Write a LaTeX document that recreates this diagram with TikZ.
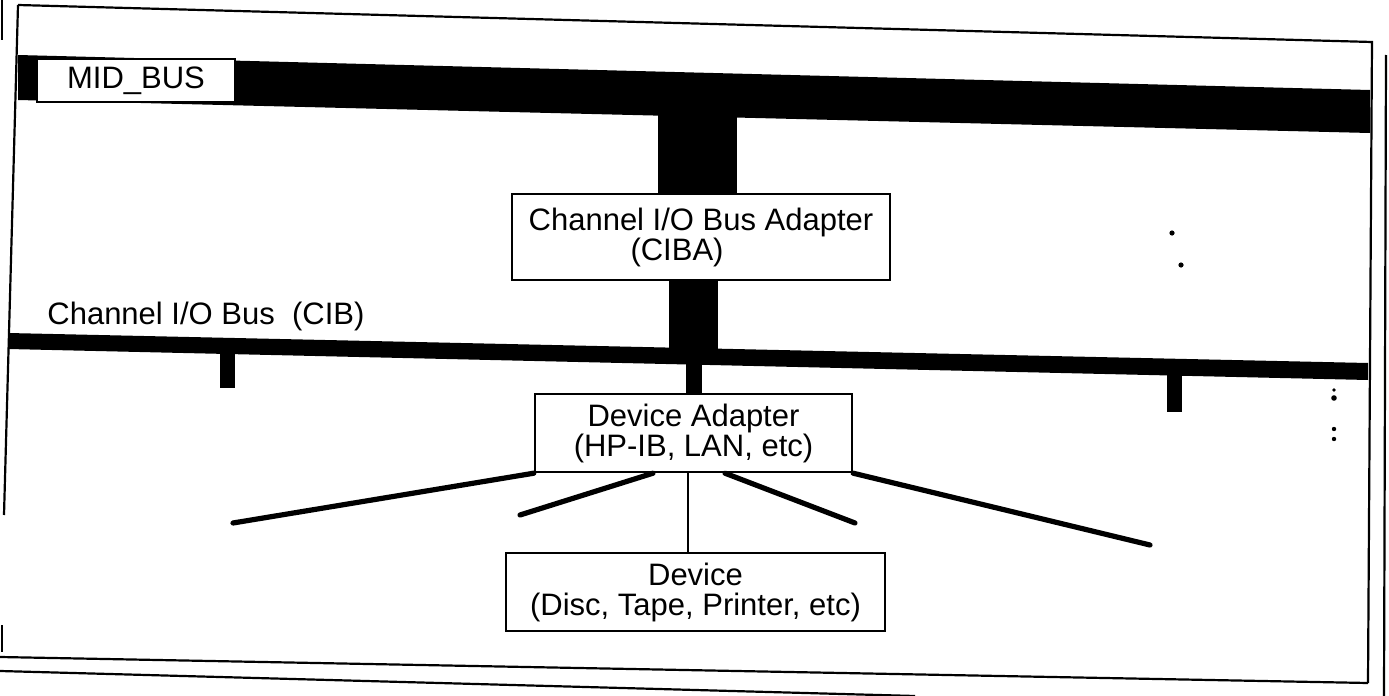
\documentclass[tikz,border=0pt]{standalone}
\usepackage{fontspec}
\setmainfont{Liberation Sans}
\begin{document}
\begin{tikzpicture}[x=0.5pt,y=-0.5pt,
  frameline/.style={line width=1.1pt},
  barfill/.style={fill=black},
  boxnode/.style={draw, line width=1.2pt, fill=white, inner sep=0pt, align=center,
    font=\fontsize{15.5}{15}\selectfont},
  labeltext/.style={inner sep=0pt, font=\fontsize{15.5}{15}\selectfont},
  fanline/.style={line width=2.6pt, line cap=round},
  dropline/.style={line width=1.4pt},
  dotmark/.style={fill=black}]
\useasboundingbox (0,0) rectangle (1389,696);
% frame
\draw[frameline] (18,5) -- (1372,42) -- (1368,683);
\draw[frameline] (18,5) -- (4,515);
\draw[frameline] (2,0) -- (2,40);
\draw[frameline] (2,625) -- (2,652);
\draw[frameline] (1386,55) -- (1384,696);
\draw[frameline] (0,657) -- (1368,683);
\draw[frameline] (0,671) -- (915,696);
% MID_BUS
\fill[barfill] (18,55) -- (1370,90) -- (1370,133) -- (18,100) -- cycle;
\node[draw, line width=0.6pt, fill=white, minimum width=99pt, minimum height=21.5pt,
  inner sep=0pt, font=\fontsize{15.5}{15}\selectfont] (midbus) at (136,80.5) {MID\_BUS};
% vertical bus bars
\fill[barfill] (658,100) rectangle (737,200);
\fill[barfill] (669,270) rectangle (718,350);
% CIB
\fill[barfill] (8,333) -- (1368,363) -- (1368,380) -- (8,349) -- cycle;
\fill[barfill] (220,345) rectangle (235,388);
\fill[barfill] (1167,370) rectangle (1182,412);
\node[labeltext, anchor=west] (ciblabel) at (47,316) {Channel I/O Bus\ \ (CIB)};
% boxes
\node[boxnode, minimum width=189pt, minimum height=43pt] (ciba) at (701,237)
  {Channel I/O Bus Adapter\\(CIBA)\hspace*{24pt}};
\node[boxnode, minimum width=158.5pt, minimum height=39pt] (da) at (693.5,433)
  {Device Adapter\\(HP-IB, LAN, etc)};
\node[boxnode, minimum width=189.5pt, minimum height=39pt] (dev) at (695.5,592)
  {Device\\(Disc, Tape, Printer, etc)};
% CIB to device adapter
\draw[line width=8pt] (da.north) -- ++(0,-45);
% fan lines
\coordinate (f1) at (233,523);
\coordinate (f2) at (520,515);
\coordinate (f3) at (855,523);
\coordinate (f4) at (1150,545);
\draw[fanline] (da.south west) -- (f1);
\draw[fanline] ([xshift=-20.25pt]da.south) -- (f2);
\draw[fanline] ([xshift=15.75pt]da.south) -- (f3);
\draw[fanline] (da.south east) -- (f4);
\draw[dropline] ([xshift=-2.75pt]da.south) -- ([xshift=-2.75pt]da.south |- dev.north);
% dots
\fill[dotmark] (1172,233) circle (1.3pt);
\fill[dotmark] (1181,265) circle (1.3pt);
\fill[dotmark] (1334,390) circle (0.9pt);
\fill[dotmark] (1334,398) circle (1.4pt);
\fill[dotmark] (1334,429) circle (1.1pt);
\fill[dotmark] (1334,439) circle (1.1pt);
\end{tikzpicture}
\end{document}
